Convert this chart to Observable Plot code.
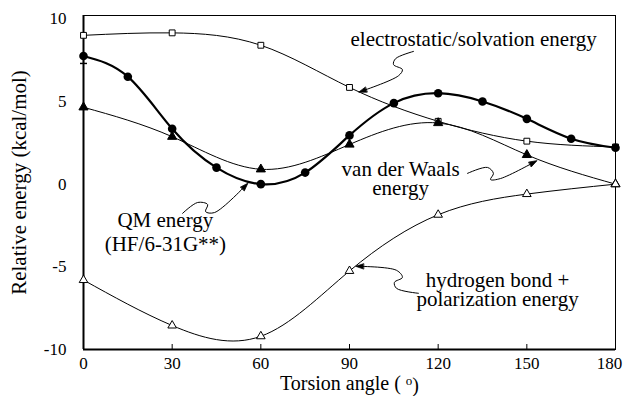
<!DOCTYPE html>
<html>
<head>
<meta charset="utf-8">
<script src="https://cdn.jsdelivr.net/npm/d3@7"></script>
<script src="https://cdn.jsdelivr.net/npm/@observablehq/plot@0.6"></script>
<style>
  html, body { margin: 0; padding: 0; background: #fff; }
  svg text { font-family: "Liberation Serif", "Times New Roman", serif; }
</style>
</head>
<body>
<div id="chart"></div>
<script>
// ---- data ----
const angles = [0, 30, 60, 90, 120, 150, 180];
const qmAngles = [0, 15, 30, 45, 60, 75, 90, 105, 120, 135, 150, 165, 180];
const qmEnergy = [7.75, 6.5, 3.35, 1.0, 0.0, 0.7, 2.95, 4.9, 5.5, 5.0, 3.95, 2.75, 2.2];
const elecEnergy = [9.0, 9.15, 8.4, 5.85, 3.8, 2.6, 2.25];
const vdwEnergy = [4.65, 2.87, 0.9, 2.4, 3.7, 1.77, 0.0];
const hbondEnergy = [-5.8, -8.55, -9.2, -5.25, -1.85, -0.6, 0.0];
const qmErrorLow = 7.3;

const xTicks = [0, 30, 60, 90, 120, 150, 180];
const yTicks = [-10, -5, 0, 5, 10];

const xTitle = "Torsion angle ( o)";
const yTitle = "Relative energy (kcal/mol)";

// annotation labels (data coordinates of the block centre)
const labels = [
  {text: "electrostatic/solvation energy", x: 132.0, y: 8.75, lh: 1},
  {text: "QM energy\n(HF/6-31G**)", x: 27.7, y: -2.86, lh: 1.14},
  {text: "van der Waals\nenergy", x: 107.3, y: 0.28, lh: 0.87},
  {text: "hydrogen bond +\npolarization energy", x: 140.1, y: -6.43, lh: 0.91}
];

// squiggly pointer arrows (data coordinates)
const elecArrowX = [111.7, 105.6, 104.9, 107.9, 106.6, 93.7];
const elecArrowY = [8.03, 7.59, 7.23, 6.93, 6.56, 5.60];
const qmArrowX = [33.5, 38.6, 42.0, 41.3, 44.3, 55.2];
const qmArrowY = [-1.77, -1.11, -1.23, -1.66, -1.72, -0.02];
const vdwArrowX = [129.9, 136.7, 138.7, 137.7, 141.1, 152.9];
const vdwArrowY = [0.65, 1.01, 0.65, 0.28, 0.34, 1.37];
const hbArrowX = [113.3, 105.9, 105.2, 107.9, 105.9, 92.7];
const hbArrowY = [-6.60, -6.30, -5.94, -5.64, -5.21, -4.97];

// ---- tables ----
const zip = (xs, ys) => xs.map((x, i) => ({x, y: ys[i]}));
const qm = zip(qmAngles, qmEnergy);
const elec = zip(angles, elecEnergy);
const vdw = zip(angles, vdwEnergy);
const hb = zip(angles, hbondEnergy);
const arrows = [
  zip(elecArrowX, elecArrowY),
  zip(qmArrowX, qmArrowY),
  zip(vdwArrowX, vdwArrowY),
  zip(hbArrowX, hbArrowY)
];

const serif = "Liberation Serif";

const plot = Plot.plot({
  width: 624,
  height: 396,
  marginLeft: 83,
  marginRight: 9,
  marginTop: 15,
  marginBottom: 47,
  style: {fontFamily: serif, fontSize: "17px", color: "#000", background: "#fff"},
  x: {domain: [0, 180]},
  y: {domain: [-10, 10.2]},
  marks: [
    Plot.frame({stroke: "#000", strokeWidth: 1}),
    Plot.ruleX([0], {stroke: "#000", strokeWidth: 2}),
    Plot.ruleY([-10], {stroke: "#000", strokeWidth: 2}),
    Plot.axisX({ticks: xTicks, tickSize: -5, tickPadding: 12, tickFormat: d => String(d), label: null, fontSize: 17, fontFamily: serif}),
    Plot.axisY({ticks: yTicks, tickSize: 0, tickPadding: 17, tickFormat: d => String(d), label: null, fontSize: 17, fontFamily: serif}),
    Plot.text([xTitle], {frameAnchor: "bottom", lineAnchor: "middle", textAnchor: "middle", dy: 34.5, fontSize: 20, fontFamily: serif}),
    Plot.text([yTitle], {frameAnchor: "left", lineAnchor: "middle", textAnchor: "middle", dx: -64, rotate: -90, fontSize: 21, fontFamily: serif}),
    // curves
    Plot.line(elec, {x: "x", y: "y", curve: "natural", stroke: "#000", strokeWidth: 1}),
    Plot.line(vdw, {x: "x", y: "y", curve: "natural", stroke: "#000", strokeWidth: 1}),
    Plot.line(hb, {x: "x", y: "y", curve: "natural", stroke: "#000", strokeWidth: 1}),
    Plot.line(qm, {x: "x", y: "y", curve: "natural", stroke: "#000", strokeWidth: 2.2}),
    Plot.link([qmErrorLow], {x1: 0, y1: qmEnergy[0], x2: 0, y2: d => d, stroke: "#000", strokeWidth: 1.2, markerEnd: "tick-x"}),
    // markers
    Plot.dot(elec, {x: "x", y: "y", symbol: "square", r: 3.3, fill: "#fff", stroke: "#000", strokeWidth: 1}),
    Plot.dot(vdw, {x: "x", y: "y", symbol: "triangle", r: 3.4, fill: "#000", stroke: "#000", strokeWidth: 1}),
    Plot.dot(hb, {x: "x", y: "y", symbol: "triangle", r: 3.2, fill: "#fff", stroke: "#000", strokeWidth: 1}),
    Plot.dot(qm, {x: "x", y: "y", symbol: "circle", r: 4.3, fill: "#000", stroke: "none"}),
    // annotations
    ...arrows.map(a => Plot.line(a, {x: "x", y: "y", curve: "catmull-rom", stroke: "#000", strokeWidth: 1, markerEnd: "arrow"})),
    ...labels.map(l => Plot.text([l], {x: "x", y: "y", text: "text", lineHeight: l.lh, fontSize: 21, fontFamily: serif, fill: "#000"}))
  ]
});

document.getElementById("chart").appendChild(plot);

const svg = d3.select(plot);

// superscript degree "o" in x title
svg.selectAll("text").filter(function () { return this.textContent === xTitle; })
  .each(function () {
    const t = d3.select(this);
    t.text(null);
    t.append("tspan").text("Torsion angle ( ");
    t.append("tspan").attr("font-size", 13).attr("dy", "-0.45em").text("o");
    t.append("tspan").attr("dy", "0.35em").text(")");
  });

// keep the last x tick label inside the picture
svg.selectAll("text").filter(function () { return this.textContent === "180"; })
  .attr("dx", -6);

// filled arrowheads for the pointer arrows
svg.selectAll("marker").each(function () {
  const m = d3.select(this);
  const p = m.select("path");
  const d = p.attr("d") || "";
  if (d.startsWith("M-1.5")) {
    m.attr("markerWidth", 12).attr("markerHeight", 12).attr("overflow", "visible");
    p.attr("d", "M-5,-2.2L1.5,0L-5,2.2Z").attr("fill", "#000").attr("stroke-width", 0.6);
  }
});
</script>
</body>
</html>
